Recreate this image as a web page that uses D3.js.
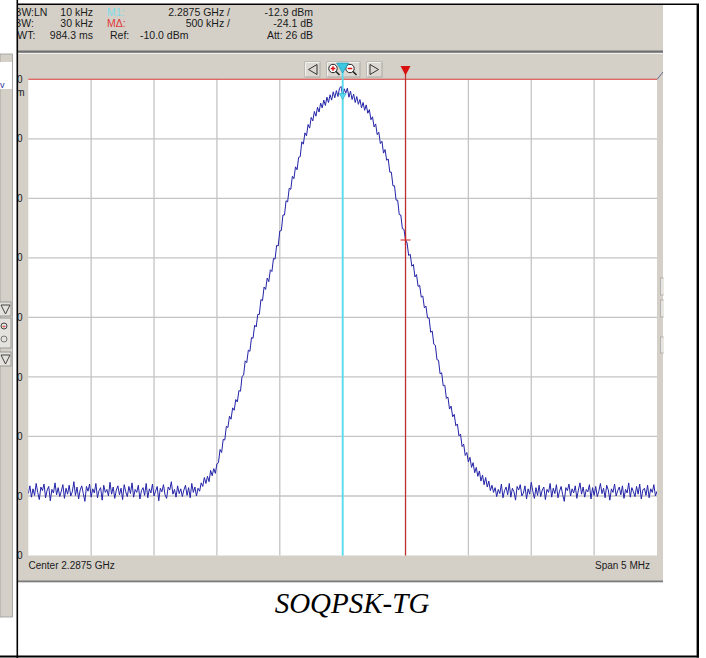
<!DOCTYPE html>
<html>
<head>
<meta charset="utf-8">
<script src="https://cdn.jsdelivr.net/npm/d3@7"></script>
<style>
  html, body { margin: 0; padding: 0; background: #ffffff; }
  svg { display: block; }
</style>
</head>
<body>
<div id="chart"></div>
<script>
// ---------------- DATA ----------------
const centerLabel = "Center 2.2875 GHz";
const spanLabel = "Span 5 MHz";
const chartTitle = "SOQPSK-TG";

// frequency offset from center (MHz) of the first trace point and the sweep step
const traceStartMHz = -2.5;
const traceStepMHz = 0.0125;

// trace level (dBm), 401 sweep points
const traceLeftFloor = [
  -79.6,-78.3,-80.2,-78.8,-79.9,-77.9,-79.4,-80.6,-78.5,-79.1,
  -78.0,-80.3,-79.0,-78.4,-80.8,-78.9,-79.5,-77.8,-79.8,-78.6,
  -80.1,-79.2,-78.1,-80.4,-78.7,-79.7,-78.2,-80.0,-79.3,-77.6,
  -79.9,-78.5,-80.5,-79.0,-78.3,-79.6,-80.9,-78.4,-79.2,-78.0,
  -80.2,-78.8,-79.5,-77.9,-80.3,-79.1,-78.6,-80.7,-78.2,-79.4,
  -78.9,-80.0,-77.7,-79.7,-78.5,-80.4,-79.0,-78.3,-79.8,-78.7,
  -80.6,-78.1,-79.3,-80.1,-78.4,-79.6,-77.8,-80.2,-78.9,-79.4,
  -78.2,-80.5,-79.1,-78.6,-79.9,-77.9,-80.3,-78.8,-79.5,-78.0,
  -80.0,-79.2,-78.4,-80.8,-78.7,-79.3,-78.1,-79.8,-80.4,-78.5,
  -79.0,-77.6,-79.7,-78.9,-80.2,-78.3,-79.6,-78.8,-80.1,-79.0,
  -78.2,-79.9,-78.6,-80.3,-77.9,-79.4,-78.5,-80.0,-78.7,-79.2,
  -77.8,-78.4
];
const traceMainLobe = [
  -76.9,-77.9,-76.7,-77.6,-75.7,-76.6,-75.4,-76.2,-74.6,-74.4,
  -72.2,-72.7,-70.5,-70.6,-68.3,-68.5,-66.6,-67.1,-65.2,-65.6,
  -63.8,-64.2,-62.3,-62.4,-59.9,-59.7,-57.3,-57.6,-55.5,-55.7,
  -53.4,-53.5,-51.3,-51.6,-49.5,-49.5,-47.0,-47.2,-44.9,-45.3,
  -43.4,-44.0,-42.0,-42.3,-40.1,-40.2,-37.9,-38.0,-35.5,-35.4,
  -32.8,-32.8,-30.4,-30.6,-28.3,-28.5,-26.3,-26.7,-24.7,-25.2,
  -23.1,-23.0,-20.5,-20.9,-19.0,-19.5,-17.6,-18.2,-16.4,-17.0,
  -15.4,-16.2,-14.7,-15.5,-14.0,-14.8,-13.5,-14.4,-13.0,-13.9,
  -12.6,-13.5,-12.1,-13.1,-11.9,-12.9,-11.5,-11.2,-12.9,-11.6,
  -12.3,-11.5,-13.0,-12.0,-13.4,-12.5,-13.9,-12.9,-14.2,-13.4,
  -14.8,-13.9,-15.2,-14.3,-15.7,-15.1,-16.8,-16.3,-18.0,-17.5,
  -19.3,-18.9,-20.8,-20.4,-22.4,-21.8,-23.6,-23.4,-25.6,-25.6,
  -27.9,-27.9,-30.3,-30.3,-32.7,-32.8,-35.1,-35.2,-37.0,-37.5,
  -39.6,-39.4,-41.4,-41.1,-43.2,-42.8,-44.8,-44.6,-46.6,-46.4,
  -48.4,-48.1,-50.1,-50.1,-52.5,-52.3,-54.5,-54.7,-57.1,-57.2,
  -59.5,-59.3,-61.5,-61.4,-63.6,-63.4,-65.4,-64.9,-66.7,-66.3,
  -68.2,-67.9,-69.9,-69.6,-71.7,-71.3,-73.2,-72.7,-74.3,-73.5,
  -75.2,-74.4,-76.1,-75.2,-76.7,-75.8,-77.5,-76.5,-78.1,-76.9,
  -78.5,-77.5,-79.1
];
const traceRightFloor = [
  -78.2,-79.4,-78.6,-80.1,-78.9,-79.6,-78.0,-80.3,-79.1,-78.5,
  -79.8,-77.9,-80.2,-78.7,-79.3,-80.7,-78.4,-79.0,-78.1,-80.0,
  -79.5,-78.3,-80.5,-78.8,-79.7,-77.7,-79.2,-80.4,-78.6,-79.9,
  -78.2,-80.1,-79.0,-78.5,-80.6,-78.9,-79.4,-77.9,-80.2,-78.7,
  -79.6,-78.1,-80.3,-79.2,-78.4,-79.8,-80.9,-78.6,-79.1,-78.0,
  -80.0,-78.8,-79.5,-78.3,-80.4,-79.0,-77.8,-79.7,-78.5,-80.2,
  -78.9,-79.3,-78.1,-80.5,-78.6,-79.9,-78.4,-80.1,-79.2,-77.9,
  -79.6,-78.7,-80.3,-78.2,-79.0,-80.7,-78.8,-79.4,-78.0,-80.0,
  -79.1,-78.5,-79.8,-78.3,-80.4,-78.9,-79.5,-77.8,-80.2,-78.6,
  -79.3,-80.1,-78.4,-79.7,-78.0,-80.5,-79.0,-78.7,-79.9,-78.2,
  -80.3,-78.8,-79.4,-78.1,-80.0,-79.2
];

// grid ticks
const freqTicks = [-2.5,-2.0,-1.5,-1.0,-0.5,0,0.5,1.0,1.5,2.0,2.5];
const levelTicks = [-10,-20,-30,-40,-50,-60,-70,-80,-90];
const levelTickLabels = ["-10","-20","-30","-40","-50","-60","-70","-80","-90"];

// markers
const marker1 = { freq: 0, level: -12.9 };
const deltaMarker = { freq: 0.5, delta: -24.1 };

// header info rows
const headerLeft = [["RBW:LN", "10 kHz"], ["VBW:", "30 kHz"], ["SWT:", "984.3 ms"]];
const headerMid = ["2.2875 GHz /", "500 kHz /"];
const headerRight = ["-12.9 dBm", "-24.1 dB", "Att: 26 dB"];

// ---------------- DRAW ----------------
const W = 706, H = 658;
const svg = d3.select("#chart").append("svg")
  .attr("width", W).attr("height", H)
  .attr("viewBox", `0 0 ${W} ${H}`);

const winGray = "#d4d0c8";
const uiFont = "'Liberation Sans', Arial, sans-serif";

const plot = { left: 28.3, right: 657, top: 79.3, bottom: 555.5 };
const x = d3.scaleLinear().domain([-2.5, 2.5]).range([plot.left, plot.right]);
const y = d3.scaleLinear().domain([-90, -10]).range([plot.bottom, plot.top]);

const defs = svg.append("defs");
defs.append("clipPath").attr("id", "winClip")
  .append("rect").attr("x", 17.8).attr("y", 4).attr("width", 646).attr("height", 580);
defs.append("clipPath").attr("id", "plotClip")
  .append("rect").attr("x", plot.left).attr("y", plot.top - 2)
  .attr("width", plot.right - plot.left).attr("height", plot.bottom - plot.top + 2);

// ---- left cut-off panel ----
const leftPanel = svg.append("g");
leftPanel.append("rect").attr("x", 0).attr("y", 54).attr("width", 12.5).attr("height", 563)
  .attr("fill", winGray).attr("stroke", "#9a9a9a").attr("stroke-width", 0.8);
leftPanel.append("rect").attr("x", 0).attr("y", 62).attr("width", 12).attr("height", 27)
  .attr("fill", "#ffffff");
leftPanel.append("text").attr("x", 0).attr("y", 88).attr("font-family", uiFont)
  .attr("font-size", 9).attr("fill", "#3030a0").text("v");
[[302, 14], [318, 30], [352, 14]].forEach(([yy, hh]) => {
  leftPanel.append("rect").attr("x", -1).attr("y", yy).attr("width", 12).attr("height", hh)
    .attr("fill", "#e4e2dc").attr("stroke", "#8a8a8a").attr("stroke-width", 0.8);
});
leftPanel.append("path").attr("d", "M1,305 L10,305 L5.5,314 Z").attr("fill", "none").attr("stroke", "#444");
leftPanel.append("circle").attr("cx", 4).attr("cy", 326).attr("r", 3).attr("fill", "none").attr("stroke", "#444");
leftPanel.append("text").attr("x", 2).attr("y", 329).attr("font-size", 7).attr("fill", "#e01010").text("+");
leftPanel.append("circle").attr("cx", 4).attr("cy", 339).attr("r", 3).attr("fill", "none").attr("stroke", "#777");
leftPanel.append("path").attr("d", "M1,355 L10,355 L5.5,364 Z").attr("fill", "none").attr("stroke", "#444");

// ---- analyzer window ----
const win = svg.append("g").attr("clip-path", "url(#winClip)");
win.append("rect").attr("x", 17).attr("y", 4).attr("width", 646).attr("height", 578)
  .attr("fill", winGray);
// header separator
win.append("rect").attr("x", 17).attr("y", 50.5).attr("width", 646).attr("height", 2.2)
  .attr("fill", "#6f6f6f");
win.append("line").attr("x1", 17).attr("x2", 663).attr("y1", 53.5).attr("y2", 53.5)
  .attr("stroke", "#f0f0f0").attr("stroke-width", 1);
// bottom separator
win.append("rect").attr("x", 17).attr("y", 580.5).attr("width", 646).attr("height", 1.8)
  .attr("fill", "#7a7a7a");

// header texts
const hdr = win.append("g").attr("font-family", uiFont).attr("font-size", 10.5).attr("fill", "#1a1a1a");
const rowsY = [15.5, 27, 38.5];
headerLeft.forEach((r, i) => {
  hdr.append("text").attr("x", [6.8, 7.2, 10.3][i]).attr("y", rowsY[i]).text(r[0]);
  hdr.append("text").attr("x", 93).attr("y", rowsY[i]).attr("text-anchor", "end").text(r[1]);
});
hdr.append("text").attr("x", 107).attr("y", rowsY[0]).attr("fill", "#7fdbe8").text("M1:");
hdr.append("text").attr("x", 107).attr("y", rowsY[1]).attr("fill", "#e03a3a").text("MΔ:");
hdr.append("text").attr("x", 110).attr("y", rowsY[2]).text("Ref:");
hdr.append("text").attr("x", 140).attr("y", rowsY[2]).text("-10.0 dBm");
headerMid.forEach((t, i) => {
  hdr.append("text").attr("x", 230).attr("y", rowsY[i]).attr("text-anchor", "end").text(t);
});
headerRight.forEach((t, i) => {
  hdr.append("text").attr("x", 313).attr("y", rowsY[i]).attr("text-anchor", "end").text(t);
});

// toolbar buttons
function button(x0, w) {
  const g = win.append("g");
  g.append("rect").attr("x", x0).attr("y", 62).attr("width", w).attr("height", 15)
    .attr("fill", "#dcd9d2").attr("stroke", "#a6a49e").attr("stroke-width", 0.9);
  g.append("path").attr("d", `M${x0 + 0.5},76.5 L${x0 + 0.5},62.5 L${x0 + w - 0.5},62.5`)
    .attr("fill", "none").attr("stroke", "#f6f6f6").attr("stroke-width", 0.9);
  return g;
}
button(305, 15).append("path").attr("d", "M317,64.5 L317,74.5 L308.5,69.5 Z")
  .attr("fill", "none").attr("stroke", "#333").attr("stroke-width", 1);
const zb = button(327, 33);
[[333, "+"], [350, "-"]].forEach(([cx, s]) => {
  zb.append("circle").attr("cx", cx).attr("cy", 68.5).attr("r", 4.2)
    .attr("fill", "#ffffff").attr("stroke", "#222").attr("stroke-width", 1);
  zb.append("line").attr("x1", cx + 3).attr("y1", 71.5).attr("x2", cx + 6.5).attr("y2", 75)
    .attr("stroke", "#222").attr("stroke-width", 1.6);
  zb.append("line").attr("x1", cx - 2.3).attr("x2", cx + 2.3).attr("y1", 68.5).attr("y2", 68.5)
    .attr("stroke", "#e01010").attr("stroke-width", 1.5);
  if (s === "+") zb.append("line").attr("x1", cx).attr("x2", cx).attr("y1", 66.2).attr("y2", 70.8)
    .attr("stroke", "#e01010").attr("stroke-width", 1.5);
});
button(367, 15).append("path").attr("d", "M370,64.5 L370,74.5 L378.5,69.5 Z")
  .attr("fill", "none").attr("stroke", "#333").attr("stroke-width", 1);

// right-side small items
win.append("path").attr("d", "M657,79.5 L663,72").attr("stroke", "#6a6a8a").attr("stroke-width", 1);
[[278, 17], [300, 17], [337, 16]].forEach(([yy, hh]) => {
  win.append("rect").attr("x", 660.5).attr("y", yy).attr("width", 4).attr("height", hh)
    .attr("fill", "#e6e4de").attr("stroke", "#a4a4a4").attr("stroke-width", 0.7);
});

// plot background
win.append("rect").attr("x", plot.left).attr("y", plot.top)
  .attr("width", plot.right - plot.left).attr("height", plot.bottom - plot.top)
  .attr("fill", "#ffffff");

// grid
const grid = win.append("g").attr("stroke", "#c4c4c4").attr("stroke-width", 1.3);
freqTicks.slice(1, -1).forEach(f => {
  grid.append("line").attr("x1", x(f)).attr("x2", x(f)).attr("y1", plot.top).attr("y2", plot.bottom);
});
levelTicks.slice(1, -1).forEach(l => {
  grid.append("line").attr("x1", plot.left).attr("x2", plot.right).attr("y1", y(l)).attr("y2", y(l));
});
// reference level line
win.append("line").attr("x1", plot.left).attr("x2", plot.right)
  .attr("y1", y(-10)).attr("y2", y(-10)).attr("stroke", "#d83a3a").attr("stroke-width", 1.1);

// y labels (cut off on the left by the window edge)
const ylab = win.append("g").attr("font-family", uiFont).attr("font-size", 10).attr("fill", "#1a1a1a");
levelTicks.forEach((l, i) => {
  ylab.append("text").attr("x", 22.6).attr("y", y(l) + 3.6).attr("text-anchor", "end")
    .text(levelTickLabels[i]);
});
ylab.append("text").attr("x", 24.5).attr("y", y(-10) + 17).attr("text-anchor", "end").text("dBm");

// bottom labels
win.append("text").attr("x", 28.5).attr("y", 569).attr("font-family", uiFont).attr("font-size", 10)
  .attr("fill", "#1a1a1a").text(centerLabel);
win.append("text").attr("x", 650).attr("y", 568.5).attr("font-family", uiFont).attr("font-size", 10)
  .attr("fill", "#1a1a1a").attr("text-anchor", "end").text(spanLabel);

// marker lines
const m1x = x(marker1.freq), m2x = x(deltaMarker.freq);
win.append("line").attr("x1", m2x).attr("x2", m2x).attr("y1", 74).attr("y2", plot.bottom)
  .attr("stroke", "#c42a2a").attr("stroke-width", 1.2);

// trace
const traceLevels = traceLeftFloor.concat(traceMainLobe, traceRightFloor);
const trace = traceLevels.map((v, i) => ({ f: traceStartMHz + i * traceStepMHz, v }));
win.append("path").datum(trace)
  .attr("clip-path", "url(#plotClip)")
  .attr("fill", "none").attr("stroke", "#2323a8").attr("stroke-width", 1)
  .attr("d", d3.line().x(d => x(d.f)).y(d => y(d.v)));

win.append("line").attr("x1", m1x).attr("x2", m1x).attr("y1", 70).attr("y2", plot.bottom)
  .attr("stroke", "#55dcee").attr("stroke-width", 1.8);

// marker symbols
win.append("path").attr("d", `M${m1x - 6},63 L${m1x + 6},63 L${m1x},73 Z`)
  .attr("fill", "#3cc8e0").attr("stroke", "#1a8aa0").attr("stroke-width", 0.6);
win.append("path").attr("d", `M${m2x - 5},66 L${m2x + 5},66 L${m2x},75.5 Z`)
  .attr("fill", "#d81010");
const m1y = y(marker1.level);
win.append("path").attr("d", `M${m1x - 3.5},${m1y - 3} L${m1x + 3.5},${m1y - 3} L${m1x},${m1y + 3} Z`)
  .attr("fill", "#55dcee").attr("stroke", "#2aa8c0").attr("stroke-width", 0.6);
const m2y = y(marker1.level + deltaMarker.delta);
win.append("path").attr("d", `M${m2x - 5},${m2y} L${m2x + 5},${m2y} M${m2x},${m2y - 5} L${m2x},${m2y + 5}`)
  .attr("stroke", "#d02020").attr("stroke-width", 1.2);

// ---- outer frame ----
const frame = svg.append("g").attr("stroke", "#000").attr("fill", "none");
frame.append("line").attr("x1", 17.3).attr("x2", 17.3).attr("y1", 0).attr("y2", 658).attr("stroke-width", 1.6);
frame.append("line").attr("x1", 17).attr("x2", 699).attr("y1", 4.3).attr("y2", 4.3).attr("stroke-width", 1.6);
frame.append("line").attr("x1", 697.8).attr("x2", 697.8).attr("y1", 4).attr("y2", 657.5).attr("stroke-width", 2.4);
frame.append("line").attr("x1", 0).attr("x2", 699).attr("y1", 656.5).attr("y2", 656.5).attr("stroke-width", 2);

// caption
svg.append("text").attr("x", 352).attr("y", 613).attr("text-anchor", "middle")
  .attr("font-family", "'Liberation Serif', 'Times New Roman', serif")
  .attr("font-style", "italic").attr("font-size", 29).attr("fill", "#000")
  .text(chartTitle);
</script>
</body>
</html>
